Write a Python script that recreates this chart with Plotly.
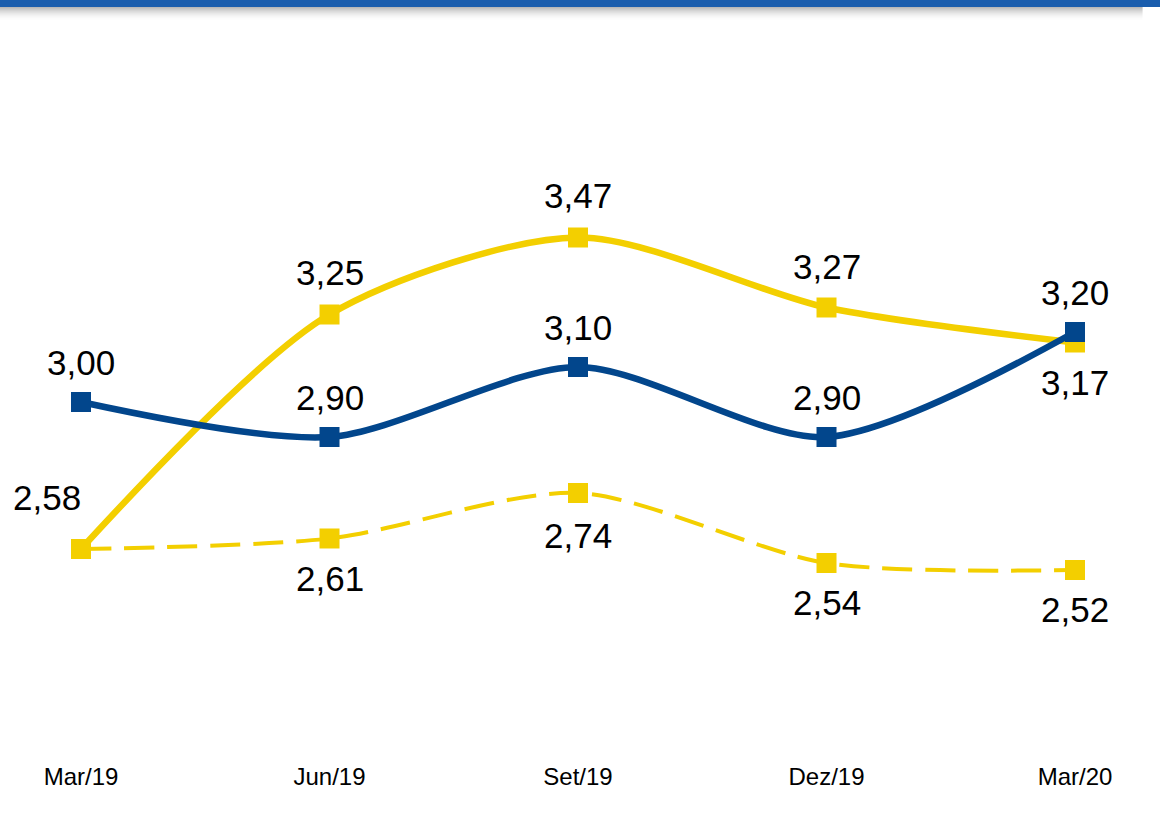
import plotly.graph_objects as go

categories = ["Mar/19", "Jun/19", "Set/19", "Dez/19", "Mar/20"]
yellow_solid = [2.58, 3.25, 3.47, 3.27, 3.17]
yellow_dashed = [2.58, 2.61, 2.74, 2.54, 2.52]
blue_series = [3.00, 2.90, 3.10, 2.90, 3.20]

# label placement (pixel offsets) per point
yellow_solid_shift = [(-34, 51), (0, 42), (0, 42), (0, 41), (0, -40)]
yellow_dashed_shift = [None, (0, -40), (0, -43), (0, -40), (0, -40)]
blue_shift = [(0, 40), (0, 40), (0, 40), (0, 40), (0, 40)]

BLUE = "#02468C"
YELLOW = "#F3CF00"
x = list(range(len(categories)))

def fmt(v):
    return f"{v:.2f}".replace(".", ",")

fig = go.Figure()
fig.add_trace(go.Scatter(
    x=x, y=yellow_dashed, mode="lines+markers",
    line=dict(color=YELLOW, width=4, dash="30px,13px", shape="spline", smoothing=0.8),
    marker=dict(symbol="square", size=20, color=YELLOW),
    hoverinfo="skip", showlegend=False))
fig.add_trace(go.Scatter(
    x=x, y=yellow_solid, mode="lines+markers",
    line=dict(color=YELLOW, width=6.5, shape="spline", smoothing=0.8),
    marker=dict(symbol="square", size=20, color=YELLOW),
    hoverinfo="skip", showlegend=False))
fig.add_trace(go.Scatter(
    x=x, y=blue_series, mode="lines+markers",
    line=dict(color=BLUE, width=6.5, shape="spline", smoothing=0.8),
    marker=dict(symbol="square", size=20, color=BLUE),
    hoverinfo="skip", showlegend=False))

annotations = []
for vals, shifts in [(yellow_solid, yellow_solid_shift),
                     (yellow_dashed, yellow_dashed_shift),
                     (blue_series, blue_shift)]:
    for i, (v, s) in enumerate(zip(vals, shifts)):
        if s is None:
            continue
        annotations.append(dict(
            x=i, y=v, text=fmt(v), showarrow=False,
            xshift=s[0], yshift=s[1],
            font=dict(family="Liberation Sans, Arial, sans-serif", size=35, color="#000000")))

shapes = [dict(type="rect", xref="paper", yref="paper", x0=0, x1=1,
               y0=1 - 7 / 760, y1=1.0, fillcolor="#1A5DAD", line=dict(width=0), layer="above")]
# soft shadow under the top bar
for k in range(14):
    y_top = 7 + k
    shapes.append(dict(type="rect", xref="paper", yref="paper", x0=0, x1=0.985,
                       y0=1 - (y_top + 1) / 760, y1=1 - y_top / 760,
                       fillcolor="rgba(0,0,0,%.3f)" % (0.28 * (1 - k / 14) ** 2),
                       line=dict(width=0), layer="below"))

fig.update_layout(
    width=1160, height=813,
    margin=dict(l=0, r=0, t=0, b=53),
    paper_bgcolor="white", plot_bgcolor="white",
    xaxis=dict(range=[-0.326, 4.342], tickvals=x, ticktext=categories,
               showgrid=False, zeroline=False, showline=False, ticks="",
               tickfont=dict(family="Liberation Sans, Arial, sans-serif", size=24, color="#000000"),
               fixedrange=True),
    yaxis=dict(range=[1.9771, 4.1486], visible=False, showgrid=False, zeroline=False,
               fixedrange=True),
    annotations=annotations,
    shapes=shapes,
)

fig.write_html("out.html", config={"displayModeBar": False},
               post_script="document.body.style.margin='0';document.body.style.overflow='hidden';")
